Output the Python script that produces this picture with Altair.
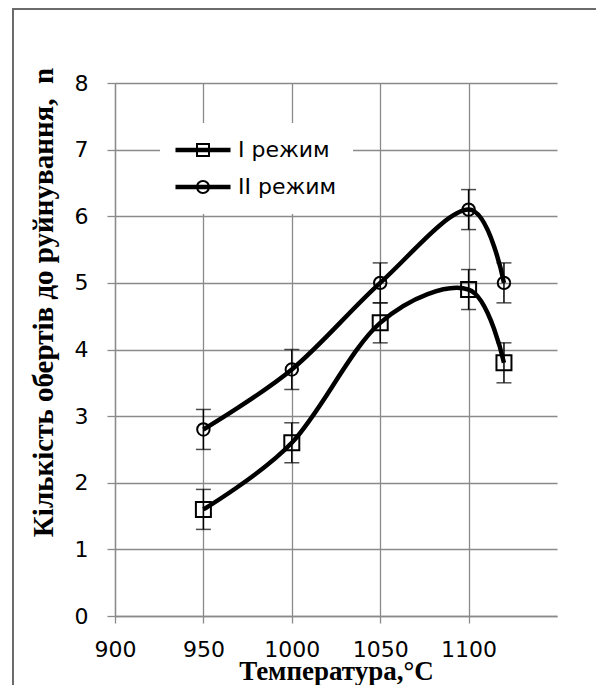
import altair as alt
import pandas as pd

temps = [950, 1000, 1050, 1100, 1120]
series_names = ["I режим", "II режим"]
mode1 = [1.6, 2.6, 4.4, 4.9, 3.8]
mode1_lo = [1.3, 2.3, 4.1, 4.6, 3.5]
mode1_hi = [1.9, 2.9, 4.7, 5.2, 4.1]
mode2 = [2.8, 3.7, 5.0, 6.1, 5.0]
mode2_lo = [2.5, 3.4, 4.7, 5.8, 4.7]
mode2_hi = [3.1, 4.0, 5.3, 6.4, 5.3]
x_ticks = [900, 950, 1000, 1050, 1100]
y_ticks = [0, 1, 2, 3, 4, 5, 6, 7, 8]
x_title = "Температура,°С"
y_title = "Кількість обертів до руйнування, \u00a0n"

rows = []
for name, v, lo, hi in [(series_names[0], mode1, mode1_lo, mode1_hi),
                        (series_names[1], mode2, mode2_lo, mode2_hi)]:
    for t, a, b, c in zip(temps, v, lo, hi):
        rows.append({"series": name, "t": t, "n": a, "lo": b, "hi": c})
df = pd.DataFrame(rows)

GRID = "#8a8a8a"
xs = alt.Scale(domain=[900, 1150], nice=False, zero=False)
ys = alt.Scale(domain=[0, 8], nice=False)

X = alt.X("t:Q", scale=xs, axis=alt.Axis(
    values=x_ticks, format="d", title=x_title, grid=True, gridColor=GRID, gridWidth=1.3,
    domainColor=GRID, domainWidth=1.3, tickColor=GRID, tickWidth=1.3, tickSize=7,
    labelFont="DejaVu Sans", labelFontSize=22, labelColor="black", labelPadding=16,
    labelFlush=False, labelBaseline="top",
    titleFont="Liberation Serif", titleFontWeight="bold", titleFontSize=27, titleColor="black",
    titleX=221, titleY=63, titleBaseline="alphabetic", titleAlign="center"))
Y = alt.Y("n:Q", scale=ys, axis=alt.Axis(
    values=y_ticks, format="d", title=y_title, grid=True, gridColor=GRID, gridWidth=1.3,
    domainColor=GRID, domainWidth=1.3, tickColor=GRID, tickWidth=1.3, tickSize=8,
    labelFont="DejaVu Sans", labelFontSize=22, labelColor="black", labelPadding=19,
    titleFont="Liberation Serif", titleFontWeight="bold", titleFontSize=29, titleColor="black",
    titleX=-63, titleY=219, titleBaseline="alphabetic", titleAlign="center", titleAngle=270))

base = alt.Chart(df)

border = alt.Chart(alt.Data(values=[{}])).mark_rect(
    fill=None, stroke="#6b6b6b", strokeWidth=2
).encode(x=alt.value(-102), y=alt.value(-74), x2=alt.value(700), y2=alt.value(800))

lines = base.mark_line(interpolate="cardinal", color="black", strokeWidth=4.5).encode(
    x=X, y=Y, detail="series:N")

err = base.mark_rule(color="black", strokeWidth=1.5).encode(
    x="t:Q", y="lo:Q", y2="hi:Q")
cap_lo = base.mark_tick(color="black", orient="horizontal", size=15, thickness=1.5).encode(
    x="t:Q", y="lo:Q")
cap_hi = base.mark_tick(color="black", orient="horizontal", size=15, thickness=1.5).encode(
    x="t:Q", y="hi:Q")

pts1 = base.transform_filter(alt.datum.series == series_names[0]).mark_point(
    shape="square", filled=False, color="black", strokeWidth=2, opacity=1, size=225
).encode(x="t:Q", y="n:Q")
pts2 = base.transform_filter(alt.datum.series == series_names[1]).mark_point(
    shape="circle", filled=False, color="black", strokeWidth=2, opacity=1, size=154
).encode(x="t:Q", y="n:Q")


def f(v):
    return f"{v:.3f}"


def legend_path(kind, dx=2.0):
    # horizontal thick line (unit = 8px), shifted right by dx units
    p = f"M{f(dx-3.44)},-0.28H{f(dx+3.44)}V0.28H{f(dx-3.44)}Z"
    o, i = 0.875, 0.625
    if kind == "square":
        p += f"M{f(dx-o)},{-o}H{f(dx+o)}V{o}H{f(dx-o)}Z"
        p += f"M{f(dx-i)},{-i}V{i}H{f(dx+i)}V{-i}Z"
    else:
        p += f"M{f(dx-o)},0A{o},{o} 0 1,1 {f(dx+o)},0A{o},{o} 0 1,1 {f(dx-o)},0Z"
        p += f"M{f(dx-i)},0A{i},{i} 0 1,0 {f(dx+i)},0A{i},{i} 0 1,0 {f(dx-i)},0Z"
    return p


legend_layer = base.transform_filter("false").mark_point(
    filled=True, color="black", opacity=1, size=256, strokeWidth=0
).encode(
    x="t:Q", y="n:Q",
    shape=alt.Shape("series:N",
                    scale=alt.Scale(domain=series_names,
                                    range=[legend_path("square"), legend_path("circle")]),
                    legend=alt.Legend(title=None, orient="none", legendX=45, legendY=40,
                                      fillColor="white", padding=16, symbolSize=256,
                                      symbolFillColor="black", symbolStrokeWidth=0,
                                      labelFont="DejaVu Sans", labelFontSize=22,
                                      labelColor="black", labelOffset=40, rowPadding=15)))

chart = alt.layer(border, lines, err, cap_lo, cap_hi, pts1, pts2, legend_layer).properties(
    width=442, height=533,
    autosize=alt.AutoSizeParams(type="none"),
    padding={"left": 107, "top": 75, "right": 39, "bottom": 69},
).configure_view(stroke=None)

chart.save("out.html", embed_options={"renderer": "svg", "actions": False})
